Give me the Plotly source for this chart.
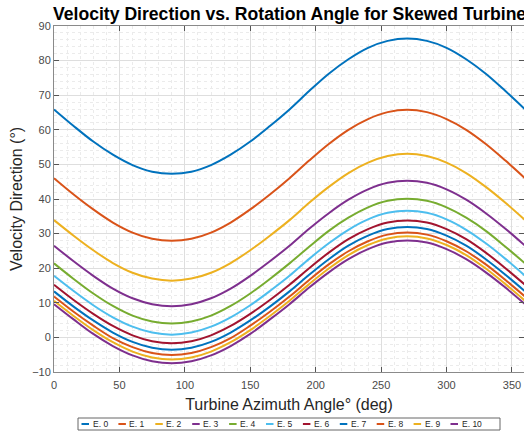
import plotly.graph_objects as go

# ---- data ----
angles = [0, 15, 30, 45, 60, 75, 90, 105, 120, 135, 150, 165, 180,
          195, 210, 225, 240, 255, 270, 285, 300, 315, 330, 345, 360]
names = ["E. 0", "E. 1", "E. 2", "E. 3", "E. 4", "E. 5", "E. 6", "E. 7", "E. 8", "E. 9", "E. 10"]
e0 = [65.9, 61.1, 56.6, 52.8, 49.8, 47.9, 47.3, 47.9, 49.8, 52.8, 56.6, 61.1, 65.9,
      71.2, 76.2, 80.4, 83.7, 85.7, 86.4, 85.7, 83.7, 80.4, 76.2, 71.2, 65.9]
e1 = [46.0, 41.3, 37.0, 33.2, 30.3, 28.5, 27.9, 28.5, 30.3, 33.2, 37.0, 41.3, 46.0,
      51.1, 55.9, 60.0, 63.1, 65.1, 65.8, 65.1, 63.1, 60.0, 55.9, 51.1, 46.0]
e2 = [33.9, 29.4, 25.2, 21.5, 18.7, 17.0, 16.4, 17.0, 18.7, 21.5, 25.2, 29.4, 33.9,
      38.9, 43.5, 47.5, 50.5, 52.4, 53.1, 52.4, 50.5, 47.5, 43.5, 38.9, 33.9]
e3 = [26.5, 22.0, 17.8, 14.1, 11.3, 9.6, 9.0, 9.6, 11.3, 14.1, 17.8, 22.0, 26.5,
      31.4, 35.9, 39.8, 42.8, 44.7, 45.3, 44.7, 42.8, 39.8, 35.9, 31.4, 26.5]
e4 = [21.4, 16.9, 12.7, 9.1, 6.3, 4.6, 4.0, 4.6, 6.3, 9.1, 12.7, 16.9, 21.4,
      26.2, 30.8, 34.6, 37.6, 39.5, 40.1, 39.5, 37.6, 34.6, 30.8, 26.2, 21.4]
e5 = [17.8, 13.4, 9.3, 5.8, 3.1, 1.4, 0.8, 1.4, 3.1, 5.8, 9.3, 13.4, 17.8,
      22.7, 27.2, 31.1, 34.1, 36.0, 36.6, 36.0, 34.1, 31.1, 27.2, 22.7, 17.8]
e6 = [15.2, 10.8, 6.8, 3.3, 0.6, -1.1, -1.7, -1.1, 0.6, 3.3, 6.8, 10.8, 15.2,
      20.0, 24.5, 28.4, 31.3, 33.2, 33.8, 33.2, 31.3, 28.4, 24.5, 20.0, 15.2]
e7 = [13.3, 8.9, 4.9, 1.4, -1.3, -3.0, -3.6, -3.0, -1.3, 1.4, 4.9, 8.9, 13.3,
      18.1, 22.6, 26.5, 29.4, 31.3, 31.9, 31.3, 29.4, 26.5, 22.6, 18.1, 13.3]
e8 = [11.8, 7.4, 3.4, -0.2, -2.8, -4.5, -5.1, -4.5, -2.8, -0.2, 3.4, 7.4, 11.8,
      16.6, 21.1, 24.9, 27.8, 29.7, 30.3, 29.7, 27.8, 24.9, 21.1, 16.6, 11.8]
e9 = [10.6, 6.2, 2.1, -1.4, -4.1, -5.8, -6.4, -5.8, -4.1, -1.4, 2.1, 6.2, 10.6,
      15.4, 19.9, 23.8, 26.7, 28.6, 29.2, 28.6, 26.7, 23.8, 19.9, 15.4, 10.6]
e10 = [9.6, 5.2, 1.0, -2.5, -5.2, -6.9, -7.5, -6.9, -5.2, -2.5, 1.0, 5.2, 9.6,
       14.4, 18.8, 22.6, 25.5, 27.4, 28.0, 27.4, 25.5, 22.6, 18.8, 14.4, 9.6]
series = [e0, e1, e2, e3, e4, e5, e6, e7, e8, e9, e10]
colors = ["#0072BD", "#D95319", "#EDB120", "#7E2F8E", "#77AC30", "#4DBEEE",
          "#A2142F", "#0072BD", "#D95319", "#EDB120", "#7E2F8E"]

W, H = 524, 442
L, R, T, B = 54, 0, 26, 70
PW, PH = W - L - R, H - T - B

def px_x(p):  # pixel -> paper
    return (p - L) / PW

def px_y(p):
    return (H - B - p) / PH

fig = go.Figure()
for name, vals, col in zip(names, series, colors):
    fig.add_trace(go.Scatter(x=angles, y=vals, name=name, mode="lines",
                             line=dict(color=col, width=2, shape="spline", smoothing=1.0),
                             showlegend=False))

axis_common = dict(
    showline=True, linecolor="#8a8a8a", linewidth=1, mirror="ticks",
    ticks="inside", ticklen=5, tickcolor="#555555", tickwidth=1,
    showgrid=True, gridcolor="#dedede", gridwidth=1,
    zeroline=False, automargin=False,
    tickfont=dict(family="Liberation Sans, Arial", size=11, color="#4a4a4a"),
)

fig.update_xaxes(range=[0, 359.2], dtick=50, tick0=0,
                 minor=dict(dtick=10, showgrid=True, gridcolor="#ebebeb", griddash="dot", ticks=""),
                 title=dict(text="Turbine Azimuth Angle° (deg)",
                            font=dict(family="Liberation Sans, Arial", size=16, color="#262626"),
                            standoff=8),
                 ticklabelstandoff=3,
                 **axis_common)
fig.update_yaxes(range=[-10, 90], dtick=10, tick0=0,
                 minor=dict(dtick=2, showgrid=True, gridcolor="#ebebeb", griddash="dot", ticks=""),
                 title=dict(text="Velocity Direction (°)",
                            font=dict(family="Liberation Sans, Arial", size=16, color="#262626"),
                            standoff=5),
                 **axis_common)

# manual legend box (MATLAB-style compact horizontal legend)
shapes = [dict(type="rect", xref="paper", yref="paper",
               x0=px_x(78), x1=px_x(500), y0=px_y(430), y1=px_y(418),
               line=dict(color="#666666", width=1), fillcolor="white", layer="above")]
annotations = []
step = 36.9
for i, (name, col) in enumerate(zip(names, colors)):
    x0 = 81.5 + step * i
    shapes.append(dict(type="line", xref="paper", yref="paper",
                       x0=px_x(x0), x1=px_x(x0 + 7.5), y0=px_y(424), y1=px_y(424),
                       line=dict(color=col, width=2), layer="above"))
    annotations.append(dict(xref="paper", yref="paper", x=px_x(x0 + 9), y=px_y(424),
                            text=name, showarrow=False, xanchor="left", yanchor="middle",
                            font=dict(family="Liberation Sans, Arial", size=8.5, color="#262626")))

fig.update_layout(
    width=W, height=H,
    margin=dict(l=L, r=R, t=T, b=B, autoexpand=False),
    paper_bgcolor="white", plot_bgcolor="white",
    title=dict(text="<b>Velocity Direction vs. Rotation Angle for Skewed Turbine</b>",
               xref="container", yref="container", x=53 / W, xanchor="left",
               y=1 - 13.5 / H, yanchor="middle",
               font=dict(family="Liberation Sans, Arial", size=17.6, color="#000000")),
    shapes=shapes, annotations=annotations,
    showlegend=False,
)

fig.write_html("out.html", config={"displayModeBar": False},
               post_script="document.body.style.margin='0px';")
